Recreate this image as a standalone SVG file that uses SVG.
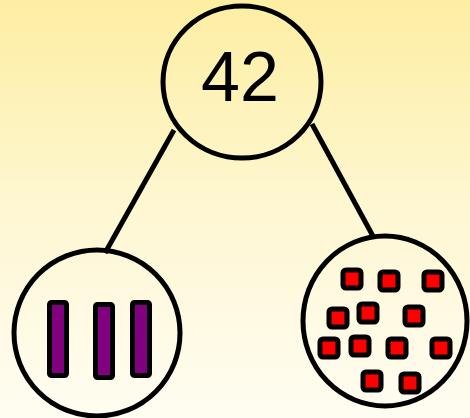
<svg xmlns="http://www.w3.org/2000/svg" width="470" height="418" viewBox="0 0 470 418">
  <defs>
    <linearGradient id="bg" x1="0" y1="0" x2="0" y2="1">
      <stop offset="0" stop-color="#fdeea2"/>
      <stop offset="0.5" stop-color="#fef7d2"/>
      <stop offset="1" stop-color="#fffdf2"/>
    </linearGradient>
  </defs>
  <style>
    .node { fill: none; stroke: #000; stroke-width: 5; }
    .edge { stroke: #000; stroke-width: 5; fill: none; }
    .bar { fill: #800080; stroke: #000; stroke-width: 5; }
    .cube { fill: #ff0000; stroke: #000; stroke-width: 5; }
    .num { font-family: "Liberation Sans", Arial, sans-serif; font-size: 70px; fill: #000; }
  </style>
  <rect width="470" height="418" fill="url(#bg)"/>

  <g id="connectors">
    <line class="edge" x1="174" y1="130" x2="105" y2="253"/>
    <line class="edge" x1="312" y1="124" x2="374" y2="238"/>
  </g>

  <g id="node-42">
    <ellipse class="node" cx="242" cy="82" rx="79" ry="76"/>
    <text class="num" x="240" y="101" text-anchor="middle">42</text>
  </g>

  <g id="node-tens">
    <circle class="node" cx="97" cy="333" r="83"/>
    <rect class="bar" x="49.5" y="302.5" width="17" height="73" rx="2"/>
    <rect class="bar" x="95.5" y="304.5" width="17" height="73" rx="2"/>
    <rect class="bar" x="132.5" y="302.5" width="17" height="73" rx="2"/>
  </g>

  <g id="node-ones">
    <ellipse class="node" cx="385" cy="321" rx="82" ry="85"/>
    <rect class="cube" x="343" y="270" width="18" height="18" rx="3"/>
    <rect class="cube" x="380" y="272" width="18" height="18" rx="3"/>
    <rect class="cube" x="424" y="272" width="18" height="18" rx="3"/>
    <rect class="cube" x="329" y="309" width="18" height="18" rx="3"/>
    <rect class="cube" x="359" y="304" width="18" height="18" rx="3"/>
    <rect class="cube" x="405" y="307" width="18" height="18" rx="3"/>
    <rect class="cube" x="320" y="339" width="18" height="18" rx="3"/>
    <rect class="cube" x="351" y="337" width="18" height="18" rx="3"/>
    <rect class="cube" x="388" y="339" width="18" height="18" rx="3"/>
    <rect class="cube" x="432" y="339" width="18" height="18" rx="3"/>
    <rect class="cube" x="363" y="372" width="18" height="18" rx="3"/>
    <rect class="cube" x="401" y="374" width="18" height="18" rx="3"/>
  </g>
</svg>
